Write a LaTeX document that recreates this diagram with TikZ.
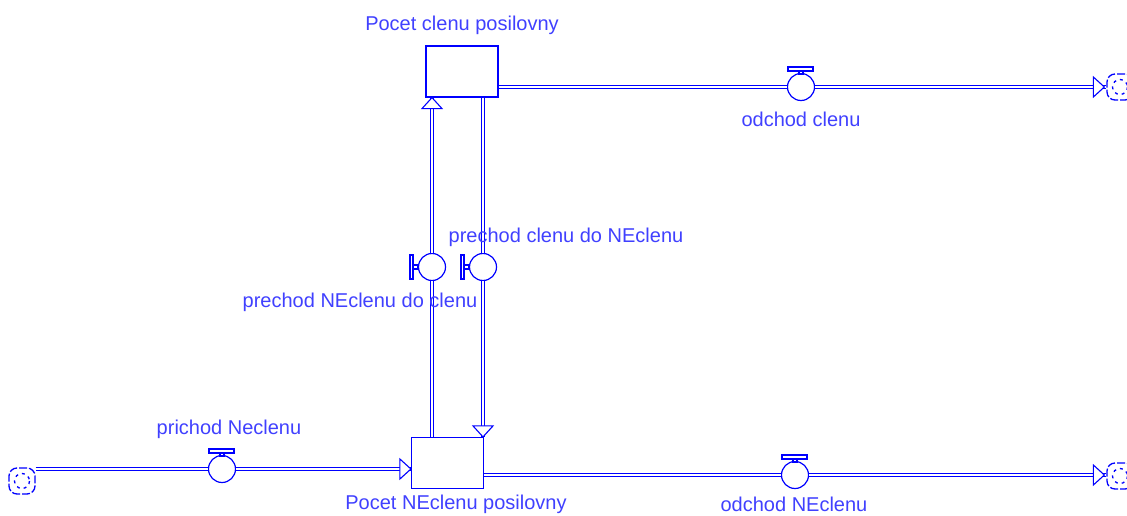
\documentclass[tikz,border=0pt]{standalone}
\usepackage{fontspec}
\setmainfont{Liberation Sans}
\usetikzlibrary{arrows.meta}
\definecolor{VensimBlue}{RGB}{0,0,255}
\definecolor{VensimText}{RGB}{64,64,255}

\begin{document}
\begin{tikzpicture}[x=1pt,y=-1pt,
  stock/.style={draw=VensimBlue,fill=white,line width=1.2pt,minimum width=72pt,minimum height=51pt,inner sep=0pt},
  valve/.style={circle,draw=VensimBlue,fill=white,line width=1.2pt,minimum size=27pt,inner sep=0pt},
  cloud/.style={draw=VensimBlue,line width=1.3pt,rounded corners=8pt,minimum size=26pt,inner sep=0pt,dash pattern=on 8pt off 2pt},
  pipe/.style={draw=VensimBlue,line width=1.1pt,double=white,double distance=1.6pt},
  handle/.style={draw=VensimBlue,fill=white,line width=1.1pt},
  head/.pic={\draw[VensimBlue,fill=white,line width=1.1pt] (0,0) -- (-11,-10) -- (-11,10) -- cycle;},
  lbl/.style={text=VensimText,inner sep=0pt,font=\fontsize{20}{24}\selectfont}]
  \useasboundingbox (0,0) rectangle (1127,516);

  \node[stock] (stockC) at (462,71.5) {};
  \node[stock] (stockN) at (447.5,463) {};
  \node[cloud] (cloudL) at (22,481) {};
  \node[cloud] (cloudC) at (1120,87) {};
  \node[cloud] (cloudN) at (1120,476) {};
  \foreach \c in {cloudL,cloudC,cloudN}
    \draw[VensimBlue,line width=1.3pt,dash pattern=on 3pt off 4pt] (\c) circle (7.5);

  \node[valve] (vIn) at (222,469) {};
  \node[valve] (vOutC) at (801,87) {};
  \node[valve] (vOutN) at (795,475) {};
  \node[valve] (vUp) at (432,267) {};
  \node[valve] (vDown) at (483,267) {};

  % pipes
  \draw[pipe] (cloudL.east |- vIn) -- (vIn);
  \draw[pipe] (vIn) -- (stockN.west |- vIn);
  \draw[pipe] (stockC.east |- vOutC) -- (vOutC);
  \draw[pipe] (vOutC) -- (cloudC.west |- vOutC);
  \draw[pipe] (stockN.east |- vOutN) -- (vOutN);
  \draw[pipe] (vOutN) -- (cloudN.west |- vOutN);
  \draw[pipe] (vUp |- stockN.north) -- (vUp);
  \draw[pipe] (vUp) -- (vUp |- stockC.south);
  \draw[pipe] (vDown |- stockC.south) -- (vDown);
  \draw[pipe] (vDown) -- (vDown |- stockN.north);

  % arrow heads
  \pic at (stockN.west |- vIn) {head};
  \pic at ([xshift=-2]cloudC.west |- vOutC) {head};
  \pic at ([xshift=-2]cloudN.west |- vOutN) {head};
  \pic[rotate=90] at (vUp |- stockC.south) {head};
  \pic[rotate=-90] at (vDown |- stockN.north) {head};

  % valve handles
  \foreach \v in {vIn,vOutC,vOutN} {
    \draw[handle] ([shift={(-2,-16)}]\v.center) rectangle ([shift={(2,-13)}]\v.center);
    \draw[handle] ([shift={(-13,-20)}]\v.center) rectangle ([shift={(12,-16)}]\v.center);
  }
  \foreach \v in {vUp,vDown} {
    \draw[handle] ([shift={(-19,-2)}]\v.center) rectangle ([shift={(-14,2)}]\v.center);
    \draw[handle] ([shift={(-22,-12)}]\v.center) rectangle ([shift={(-19,12)}]\v.center);
  }

  \node[lbl] (lStockC) at (462,25) {Pocet clenu posilovny};
  \node[lbl] (lOutC) at (801,119) {odchod clenu};
  \node[lbl] (lDown) at (566,237) {prechod clenu do NEclenu};
  \node[lbl] (lUp) at (360,302) {prechod NEclenu do clenu};
  \node[lbl] (lIn) at (229,429) {prichod Neclenu};
  \node[lbl] (lStockN) at (456,504) {Pocet NEclenu posilovny};
  \node[lbl] (lOutN) at (794,504) {odchod NEclenu};
\end{tikzpicture}
\end{document}
